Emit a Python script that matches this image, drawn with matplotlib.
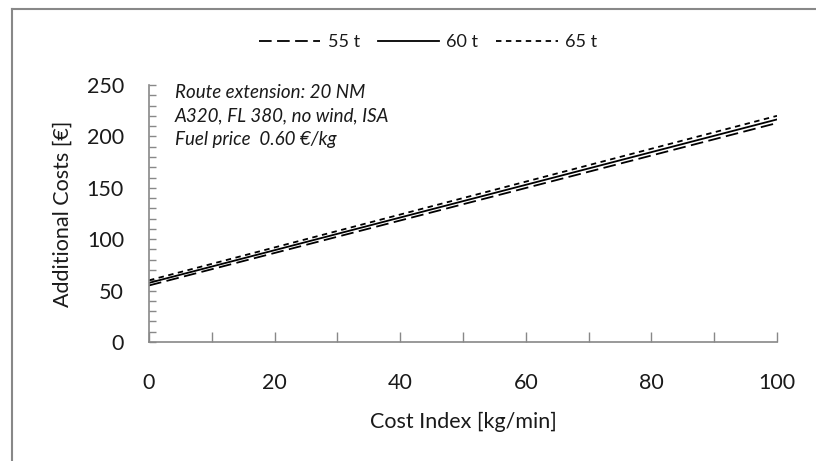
import matplotlib
matplotlib.use("Agg")
import matplotlib.pyplot as plt
from matplotlib.lines import Line2D
from matplotlib.ticker import MultipleLocator

plt.rcParams['font.family'] = ['Lato', 'DejaVu Sans']

cost_index = [0, 100]
series_labels = ["55 t", "60 t", "65 t"]
cost_55 = [55, 213]
cost_60 = [57.5, 216.5]
cost_65 = [60, 220]
x_ticks = [0, 20, 40, 60, 80, 100]
y_ticks = [0, 50, 100, 150, 200, 250]
annotation = ["Route extension: 20 NM", "A320, FL 380, no wind, ISA", "Fuel price  0.60 €/kg"]

W, H = 816, 461
fig = plt.figure(figsize=(W / 100, H / 100), dpi=100)
ax = fig.add_axes([149 / W, 1 - 342 / H, (777 - 149) / W, (342 - 85) / H])

tc = "#1a1a1a"
l1, = ax.plot(cost_index, cost_55, color="black", lw=1.3, dashes=(7, 3))
l2, = ax.plot(cost_index, cost_60, color="black", lw=1.3)
l3, = ax.plot(cost_index, cost_65, color="black", lw=1.3, dashes=(3, 2.5))

ax.set_xlim(0, 100)
ax.set_ylim(0, 250)
ax.set_xticks(x_ticks)
ax.set_yticks(y_ticks)
ax.xaxis.set_minor_locator(MultipleLocator(10))
ax.yaxis.set_minor_locator(MultipleLocator(10))
ax.tick_params(axis="x", which="both", direction="in", length=7, width=1, color="#888888",
               labelsize=15.5, labelcolor=tc, pad=22)
ax.tick_params(axis="y", which="both", direction="in", length=5, width=1, color="#888888",
               labelsize=15.5, labelcolor=tc, pad=18)
for s in ["top", "right"]:
    ax.spines[s].set_visible(False)
for s in ["left", "bottom"]:
    ax.spines[s].set_color("#888888")
    ax.spines[s].set_linewidth(1.2)

ax.set_xlabel("Cost Index [kg/min]", fontsize=15.5, color=tc, labelpad=14)
ax.set_ylabel("Additional Costs [€]", fontsize=15.5, color=tc, labelpad=10)

for i, line in enumerate(annotation):
    ax.text(175 / W, 1 - (92 + i * 23.5) / H, line, transform=fig.transFigure,
            fontsize=13.5, style="italic", color=tc, va="center", ha="left")

fig.legend([l1, l2, l3], series_labels, loc="center", bbox_to_anchor=(428 / W, 1 - 42 / H),
           ncol=3, frameon=False, fontsize=13, handlelength=3.4, columnspacing=1.0,
           handletextpad=0.4, labelcolor=tc)

fig.add_artist(Line2D([12 / W, 1], [1 - 9 / H, 1 - 9 / H], transform=fig.transFigure,
                      color="#888888", lw=1.5))
fig.add_artist(Line2D([12 / W, 12 / W], [0, 1 - 9 / H], transform=fig.transFigure,
                      color="#888888", lw=1.5))

fig.savefig("out.png", dpi=100, facecolor="white")
